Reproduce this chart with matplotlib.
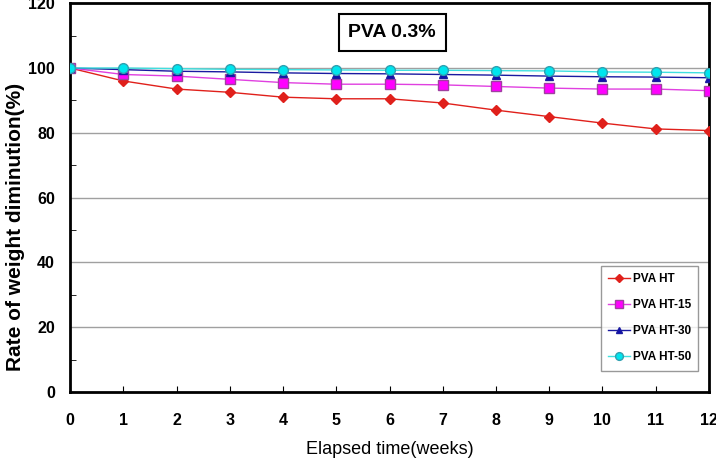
import numpy as np
import matplotlib.pyplot as plt

# weeks elapsed
weeks = np.arange(0, 13)

# rate of weight diminution (%)
pva_ht = [100, 96, 93.5, 92.5, 91, 90.5, 90.5, 89.2, 87, 85, 83, 81.2, 80.7]
pva_ht15 = [100, 98, 97.5, 96.5, 95.5, 95, 95, 94.8, 94.3, 93.8, 93.5, 93.5, 93]
pva_ht30 = [100, 99.5, 99, 98.8, 98.5, 98.3, 98.2, 98, 97.8, 97.5, 97.3, 97.2, 97]
pva_ht50 = [100, 100, 99.8, 99.6, 99.5, 99.4, 99.3, 99.3, 99.2, 99.1, 98.8, 98.7, 98.5]

plt.rcParams['font.family'] = ['Liberation Sans', 'DejaVu Sans']

fig = plt.figure(figsize=(7.16, 4.59), dpi=100)
ax = fig.add_axes([0.098, 0.146, 0.892, 0.847])

ax.plot(weeks, pva_ht, color='#e0201b', marker='D', markersize=5, lw=1, label='PVA HT', zorder=3)
ax.plot(weeks, pva_ht15, color='#e040e0', marker='s', markersize=7, lw=1,
        markerfacecolor='#ff00ff', markeredgecolor='#a040a0', label='PVA HT-15', zorder=4)
ax.plot(weeks, pva_ht30, color='#1a1aa0', marker='^', markersize=6, lw=1,
        markerfacecolor='#1010b0', label='PVA HT-30', zorder=5)
ax.plot(weeks, pva_ht50, color='#40e0e0', marker='o', markersize=7, lw=1,
        markerfacecolor='#00e5ee', markeredgecolor='#30a0b0', label='PVA HT-50', zorder=6)

ax.set_xlim(0, 12)
ax.set_ylim(0, 120)
ax.set_xticks(range(0, 13))
ax.set_yticks(range(0, 121, 20))
ax.set_yticks(range(10, 120, 20), minor=True)
for y in range(20, 101, 20):
    ax.axhline(y, color='#a0a0a0', lw=1, zorder=1)

ax.tick_params(axis='both', which='both', direction='in', labelsize=11.5)
ax.tick_params(axis='x', length=4, pad=15)
ax.tick_params(axis='y', which='major', length=0, pad=11)
ax.tick_params(axis='y', which='minor', length=4)
for lbl in ax.get_xticklabels() + ax.get_yticklabels():
    lbl.set_fontweight('bold')

for s in ax.spines.values():
    s.set_linewidth(2)

ax.set_xlabel('Elapsed time(weeks)', fontsize=13)
ax.xaxis.set_label_coords(0.5, -0.125)
ax.set_ylabel('Rate of weight diminution(%)', fontsize=15, fontweight='bold')
ax.yaxis.set_label_coords(-0.07, 0.424)

ax.text(6.05, 111, 'PVA 0.3%', ha='center', va='center', fontsize=14, fontweight='bold',
        bbox=dict(boxstyle='square,pad=0.5', facecolor='white', edgecolor='black', lw=1.5))

leg = ax.legend(loc='lower right', bbox_to_anchor=(0.993, 0.04), fontsize=8.5,
                frameon=True, fancybox=False, edgecolor='#808080', handlelength=1.8,
                handletextpad=0.3, labelspacing=1.2, borderpad=0.6, markerscale=0.8)
for t in leg.get_texts():
    t.set_fontweight('bold')

fig.savefig('out.png', dpi=100)
